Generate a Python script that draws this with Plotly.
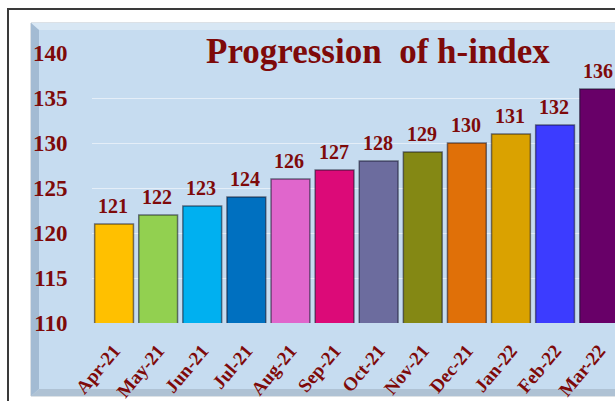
import plotly.graph_objects as go

months = ["Apr-21", "May-21", "Jun-21", "Jul-21", "Aug-21", "Sep-21",
          "Oct-21", "Nov-21", "Dec-21", "Jan-22", "Feb-22", "Mar-22"]
h_index = [121, 122, 123, 124, 126, 127, 128, 129, 130, 131, 132, 136]
bar_colors = ["#FFC000", "#92D050", "#00B0F0", "#0070C0", "#E066CC", "#DC0A78",
              "#6C6C9E", "#848814", "#E07008", "#DAA200", "#3C3CFF", "#680068"]
y_ticks = [110, 115, 120, 125, 130, 135, 140]
title_text = "Progression&nbsp; of h-index"

W, H = 615, 401
# plot area in screen pixels
SX0, SX1, SY0, SY1 = 92, 615, 53, 323
ML, MR, MT, MB = SX0, W - SX1, SY0, H - SY1
PW = SX1 - SX0
PH = SY1 - SY0
CAT_W = 44.1
x_end = PW / CAT_W - 0.5

def px(x):
    return (x - SX0) / PW

def py(y):
    return (SY1 - y) / PH

RED = "#7E0A0A"
FONT = "Liberation Serif, Times New Roman, serif"

fig = go.Figure()
fig.add_trace(go.Bar(
    x=months, y=h_index,
    marker=dict(color=bar_colors, line=dict(color="rgba(20,20,40,0.55)", width=1.5)),
    hoverinfo="x+y",
))

for m, v in zip(months, h_index):
    fig.add_annotation(x=m, y=v, text=str(v), showarrow=False, yanchor="bottom",
                       yshift=5, xshift=-1,
                       font=dict(family=FONT, size=20, color=RED, weight="bold"))

def poly(points, fill, line=None):
    d = "M " + " L ".join(f"{px(a):.5f},{py(b):.5f}" for a, b in points) + " Z"
    fig.add_shape(type="path", path=d, xref="paper", yref="paper", layer="below",
                  fillcolor=fill, line=dict(width=0) if line is None else line)

# outer frame
fig.add_shape(type="rect", xref="paper", yref="paper", x0=px(8), x1=px(720), y0=py(9), y1=py(460),
              line=dict(color="#3A3A3A", width=2), fillcolor="white", layer="below")
# panel with bevel
poly([(31, 23), (720, 23), (720, 396), (31, 396)], "#C6DCF0", dict(color="#B9C3CC", width=1))
poly([(31, 23), (720, 23), (720, 30), (39, 30)], "#D8E7F4")
poly([(31, 23), (39, 30), (39, 389), (31, 396)], "#A3BBD3")
poly([(31, 396), (39, 389), (720, 389), (720, 396)], "#AFC2D4")

fig.add_annotation(xref="paper", yref="paper", x=px(378), y=py(51), text=title_text,
                   showarrow=False, xanchor="center", yanchor="middle",
                   font=dict(family=FONT, size=35, color=RED, weight="bold"))

fig.update_layout(
    width=W, height=H,
    margin=dict(l=ML, r=MR, t=MT, b=MB, pad=0, autoexpand=False),
    paper_bgcolor="white", plot_bgcolor="rgba(0,0,0,0)",
    showlegend=False, bargap=0.12,
    xaxis=dict(range=[-0.5, x_end], tickangle=-50, showgrid=False, zeroline=False,
               automargin=False,
               showline=False, ticks="outside", ticklen=8, tickcolor="rgba(0,0,0,0)",
               tickfont=dict(family=FONT, size=19, color=RED, weight="bold")),
    yaxis=dict(range=[110, 140], tickvals=y_ticks, showgrid=True, automargin=False,
               gridcolor="rgba(235,243,250,0.8)", gridwidth=1, zeroline=False,
               showline=False, ticks="outside", ticklen=19, tickcolor="rgba(0,0,0,0)",
               tickfont=dict(family=FONT, size=23, color=RED, weight="bold")),
)

fig.write_html(
    "out.html",
    config={"displayModeBar": False},
    post_script="document.body.style.margin='0';document.body.style.overflow='hidden';",
)
